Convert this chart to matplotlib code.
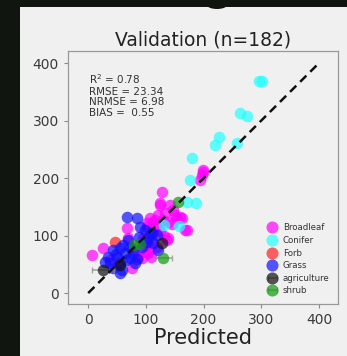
import numpy as np
import matplotlib
matplotlib.use("Agg")
import matplotlib.pyplot as plt
from matplotlib.patches import Rectangle, Ellipse

# validation points: predicted (x) vs observed (y), one list pair per land-cover class
broadleaf_x = [7, 26, 38, 52, 67, 69, 76, 76, 87, 95, 102, 102, 107, 113, 113, 119, 121, 125,
               128, 130, 137, 139, 139, 142, 147, 151, 154, 159, 163, 168, 171, 194, 197, 199,
               199, 102, 116, 125, 85, 94, 104, 110, 124, 133, 118, 145, 98, 108, 131]
broadleaf_y = [66, 78, 57, 49, 113, 96, 75, 43, 63, 96, 71, 115, 130, 104, 124, 80, 136, 156,
               176, 127, 92, 96, 124, 153, 144, 136, 130, 133, 130, 110, 110, 197, 205, 210,
               214, 122, 127, 153, 66, 61, 70, 88, 108, 140, 117, 120, 82, 62, 100]
conifer_x = [296, 301, 263, 275, 227, 220, 258, 180, 177, 171, 187, 132, 158]
conifer_y = [369, 368, 313, 308, 271, 257, 261, 235, 197, 158, 157, 118, 117]
forb_x = [47]
forb_y = [89]
grass_x = [67, 85, 90, 111, 104, 119, 55, 50, 64, 73, 55, 38, 29, 35, 55, 43, 81, 102, 94,
           69, 113, 121, 73, 61, 59, 43, 107, 78, 88, 66, 98, 48, 84]
grass_y = [132, 130, 115, 104, 96, 101, 78, 63, 70, 61, 52, 52, 54, 63, 35, 43, 52, 89, 80,
           92, 87, 75, 80, 83, 40, 75, 104, 70, 98, 58, 110, 68, 60]
agri_x = [26, 55, 128]
agri_y = [41, 49, 87]
agri_xerr = [19, 0, 0]
shrub_x = [80, 90, 130, 156]
shrub_y = [84, 86, 61, 158]
shrub_xerr = [0, 0, 15, 0]

r2, rmse, nrmse, bias = 0.78, 23.34, 6.98, 0.55
n_obs = 182

bg = "#f0f0f0"
fig = plt.figure(figsize=(3.47, 3.56), dpi=100, facecolor=bg)
# dark frame strips along the left and top edges
fig.patches.append(Rectangle((0, 0), 20 / 347, 1, transform=fig.transFigure,
                             facecolor="#111510", edgecolor="none", zorder=-1))
fig.patches.append(Rectangle((0, 1 - 7 / 356), 1, 7 / 356, transform=fig.transFigure,
                             facecolor="#111510", edgecolor="none", zorder=-1))
fig.patches.append(Ellipse((217 / 347, 1 - 5 / 356), 20 / 347, 8 / 356,
                           transform=fig.transFigure, facecolor="#111510",
                           edgecolor="none", zorder=-1))

ax = fig.add_axes([68 / 347, 1 - 304 / 356, 270 / 347, 253 / 356])
ax.set_facecolor(bg)

ms = 8.3
alpha = 0.7


def draw_class(xs, ys, color, label, xerr=None):
    if xerr is None:
        ax.plot(xs, ys, "o", ms=ms, color=color, alpha=alpha, mec="none", label=label)
        return
    xs, ys, xerr = np.array(xs), np.array(ys), np.array(xerr)
    m = xerr > 0
    ax.plot(xs[~m], ys[~m], "o", ms=ms, color=color, alpha=alpha, mec="none")
    ax.errorbar(xs[m], ys[m], xerr=xerr[m], fmt="o", ms=ms, color=color, alpha=alpha,
                mec="none", ecolor="#888888", elinewidth=1.2, capsize=2.5, label=label)


draw_class(broadleaf_x, broadleaf_y, "#ff00ff", "Broadleaf")
draw_class(conifer_x, conifer_y, "#22ffff", "Conifer")
draw_class(forb_x, forb_y, "#ff2222", "Forb")
draw_class(grass_x, grass_y, "#1111ff", "Grass")
draw_class(agri_x, agri_y, "#111111", "agriculture", agri_xerr)
draw_class(shrub_x, shrub_y, "#119911", "shrub", shrub_xerr)

ax.plot([0, 400], [0, 400], "--", color="#111111", lw=1.8, dashes=(3.5, 2.2), zorder=5)

ax.set_xlim(-35, 433)
ax.set_ylim(-19, 421)
ax.set_xticks([0, 100, 200, 300, 400])
ax.set_yticks([0, 100, 200, 300, 400])
ax.tick_params(labelsize=10, labelcolor="#3a3a3a", color="#888888", length=3, width=0.8)
for s in ax.spines.values():
    s.set_color("#999999")
    s.set_linewidth(0.9)

ax.set_title(f"Validation (n={n_obs})", fontsize=13.5, color="#222222", pad=4)
ax.set_xlabel("Predicted", fontsize=15, color="#222222", labelpad=1)

ax.text(0.078, 0.915,
        f"R$^2$ = {r2:.2f}\nRMSE = {rmse:.2f}\nNRMSE = {nrmse:.2f}\nBIAS =  {bias:.2f}",
        transform=ax.transAxes, fontsize=7.5, color="#333333", va="top", ha="left",
        linespacing=1.05)

leg = ax.legend(loc="lower right", bbox_to_anchor=(1.0, 0.0), frameon=False, fontsize=6.2,
                labelspacing=0.42, handletextpad=0.5, handlelength=1.4, markerscale=1.05,
                borderaxespad=0.6)
for t in leg.get_texts():
    t.set_color("#333333")

fig.savefig("out.png", dpi=100, facecolor=bg)
